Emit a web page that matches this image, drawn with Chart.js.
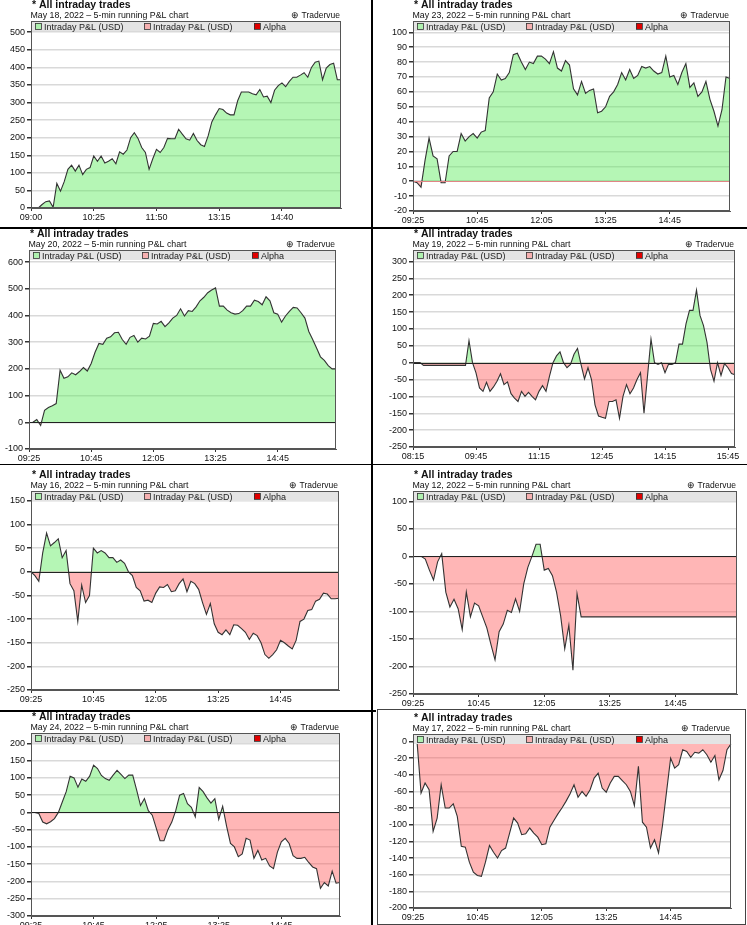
<!DOCTYPE html>
<html>
<head>
<meta charset="utf-8">
<script src="https://cdn.jsdelivr.net/npm/chart.js@4.4.0/dist/chart.umd.min.js"></script>
<style>
  body { margin: 0; background: #fff; width: 747px; height: 925px; position: relative; overflow: hidden; }
  canvas { position: absolute; }
  .ln { position: absolute; background: #000; }
</style>
</head>
<body>
<div class="ln" style="left:371px;top:0;width:1.5px;height:925px"></div>
<div class="ln" style="left:0;top:227px;width:747px;height:1.5px"></div>
<div class="ln" style="left:0;top:463.5px;width:747px;height:1.5px"></div>
<div class="ln" style="left:0;top:710px;width:376px;height:1.5px"></div>
<div style="position:absolute;left:377px;top:709px;width:367px;height:214px;border:1px solid #444"></div>

<script>
// tick labels shown on the x axes
var ticks0900 = ['09:00', '10:25', '11:50', '13:15', '14:40'];
var ticks0925 = ['09:25', '10:45', '12:05', '13:25', '14:45'];
var ticks0815 = ['08:15', '09:45', '11:15', '12:45', '14:15', '15:45'];

var legendNames = ['Intraday P&L (USD)', 'Intraday P&L (USD)', 'Alpha'];

// running P&L, one value per 5 minutes
var pnlMay18 = [0,0,0,10,18,20,2,70,48,75, 110,122,105,122,95,110,115,148,133,148,
  128,133,140,126,160,153,165,200,214,198, 172,158,110,140,167,158,172,198,197,197,
  224,210,197,193,212,192,180,175,205,245, 265,283,280,270,265,265,305,330,330,330,
  325,322,337,316,318,300,335,348,356,345, 360,372,372,378,385,372,400,415,418,365,
  398,408,412,365,365];

var pnlMay23 = [0,-1,-4,14,29,17,15,-1,-1,17, 20,20,32,27,30,32,29,33,34,56,
  60,72,68,69,73,85,86,80,75,80, 79,84,84,82,79,87,76,74,81,78,
  62,58,67,59,61,62,46,47,50,57, 60,65,73,68,75,69,71,77,76,77,
  74,72,73,84,70,71,65,73,79,63, 66,57,60,67,55,47,37,48,70,69];

var pnlMay20 = [null,0,10,-12,45,55,62,70,195,165, 170,185,178,190,205,192,220,262,295,292,
  315,320,335,337,310,292,318,325,300,315, 312,322,370,368,378,358,372,390,400,425,
  398,418,415,432,455,468,485,495,503,435, 435,420,410,405,407,418,435,435,457,452,
  440,470,455,410,405,375,398,415,430,428, 410,390,340,310,278,245,232,212,200,200];

var pnlMay19 = [0,0,0,-8,-8,-8,-8,-8,-8,-8, -8,-8,-8,-8,-8,-8,65,0,-30,-75,
  -85,-58,-85,-72,-55,-33,-65,-57,-92,-105, -115,-85,-100,-88,-100,-110,-85,-68,-85,-40,
  0,20,32,0,-15,-5,25,42,-5,-48, -15,-50,-125,-158,-162,-165,-115,-115,-110,-165,
  -100,-65,-92,-75,-50,-30,-150,-40,70,0, -5,0,-30,-5,-5,0,55,55,115,155,
  155,215,140,110,60,-20,-55,0,-38,-3, -15,-32,-36];

var pnlMay16 = [0,-8,-20,40,82,55,62,70,30,45, -25,-40,-105,-28,-65,-50,50,40,45,40,
  30,30,20,25,18,0,-8,-33,-40,-62, -60,-65,-45,-32,-33,-27,-42,-40,-25,-15,
  -42,-20,-25,-37,-65,-90,-67,-110,-128,-133, -123,-133,-112,-113,-120,-128,-143,-130,-135,-150,
  -175,-183,-175,-165,-145,-150,-157,-163,-145,-105, -100,-82,-80,-62,-58,-45,-47,-57,-57,-56];

var pnlMay12 = [null,null,0,-5,-25,-43,-10,5,-65,-92, -78,-95,-133,-65,-110,-85,-90,-110,-130,-160,
  -188,-137,-123,-98,-102,-77,-100,-50,-20,0, 22,22,-25,-22,-35,-65,-108,-168,-125,-207,
  -68,-110,-110,-110,-110,-110,-110,-110,-110,-110, -110,-110,-110,-110,-110,-110,-110,-110,-110,-110,
  -110,-110,-110,-110,-110,-110,-110,-110,-110,-110, -110,-110,-110,-110,-110,-110,-110,-110,-110,-110];

var pnlMay24 = [null,0,-3,-28,-33,-27,-18,0,30,60, 105,100,73,97,90,105,137,127,107,98,
  93,108,122,110,98,108,108,65,20,40, 5,-8,-45,-82,-82,-50,-28,5,50,55,
  25,15,-13,72,60,42,27,40,-20,18, -40,-90,-100,-128,-120,-75,-80,-133,-110,-138,
  -133,-155,-163,-115,-85,-75,-90,-125,-133,-133, -130,-145,-158,-163,-220,-203,-213,-170,-205,-203];

var pnlMay17 = [null,0,-62,-50,-58,-108,-92,-52,-80,-80, -75,-90,-126,-127,-145,-157,-161,-162,-145,-125,
  -133,-140,-131,-128,-110,-92,-98,-112,-111,-104, -110,-115,-124,-123,-103,-95,-87,-80,-72,-63,
  -52,-67,-60,-66,-58,-44,-38,-56,-61,-50, -42,-42,-47,-52,-60,-77,-30,-97,-103,-128,
  -118,-134,-100,-60,-20,-32,-28,-10,-12,-19, -13,-14,-10,-16,-25,-17,-46,-35,-10,-3];

// 5-minute time categories
function fiveMinLabels(start, count) {
  var p = start.split(':'), m = +p[0] * 60 + +p[1], out = [];
  for (var i = 0; i < count; i++, m += 5) {
    out.push(('0' + Math.floor(m / 60)).slice(-2) + ':' + ('0' + (m % 60)).slice(-2));
  }
  return out;
}

// area = plot box on the page: left, top, right, bottom
var panels = [
  { date: 'May 18, 2022', start: '09:00', ticks: ticks0900, data: pnlMay18, area: [31, 21, 341, 208], y: [0, 532, 50], zero: null },
  { date: 'May 23, 2022', start: '09:25', ticks: ticks0925, data: pnlMay23, area: [413, 21, 730, 211], y: [-20, 107.6, 10], zero: '#e08585' },
  { date: 'May 20, 2022', start: '09:25', ticks: ticks0925, data: pnlMay20, area: [29, 250, 336, 449], y: [-100, 645, 100], zero: '#222' },
  { date: 'May 19, 2022', start: '08:15', ticks: ticks0815, data: pnlMay19, area: [413, 250, 735, 447], y: [-250, 334, 50], zero: '#222' },
  { date: 'May 16, 2022', start: '09:25', ticks: ticks0925, data: pnlMay16, area: [31, 491, 339, 690], y: [-250, 171, 50], zero: '#222' },
  { date: 'May 12, 2022', start: '09:25', ticks: ticks0925, data: pnlMay12, area: [413, 491, 737, 694], y: [-250, 118.7, 50], zero: '#222' },
  { date: 'May 24, 2022', start: '09:25', ticks: ticks0925, data: pnlMay24, area: [31, 733, 340, 916], y: [-300, 230, 50], zero: '#222' },
  { date: 'May 17, 2022', start: '09:25', ticks: ticks0925, data: pnlMay17, area: [413, 734, 731, 908], y: [-200, 8.9, 20], zero: '#222' }
];

var FONT = '"Liberation Sans", Arial, sans-serif';
Chart.defaults.font.family = FONT;

// header, legend strip, zero line and frame in the Tradervue look
var tradervuePlugin = {
  id: 'tradervue',
  afterDatasetsDraw: function(chart, args, opts) {
    var ctx = chart.ctx, a = chart.chartArea, ys = chart.scales.y;
    ctx.save();

    if (opts.zero && ys.min < 0) {
      var zy = Math.round(ys.getPixelForValue(0)) + 0.5;
      ctx.strokeStyle = opts.zero;
      ctx.lineWidth = 1.2;
      ctx.beginPath();
      ctx.moveTo(a.left, zy);
      ctx.lineTo(a.right, zy);
      ctx.stroke();
    }

    // legend strip inside the top of the plot
    ctx.fillStyle = '#e4e4e4';
    ctx.fillRect(a.left, a.top, a.right - a.left, 10);
    var boxes = [['#aef0ae', 4], ['#f6b0b0', 113], ['#e00000', 223]];
    ctx.font = '9px ' + FONT;
    ctx.textBaseline = 'alphabetic';
    ctx.textAlign = 'left';
    boxes.forEach(function(b, i) {
      var x = a.left + b[1];
      ctx.fillStyle = b[0];
      ctx.fillRect(x, a.top + 2, 6, 6);
      ctx.strokeStyle = '#333';
      ctx.lineWidth = 0.8;
      ctx.strokeRect(x + 0.5, a.top + 2.5, 6, 6);
      ctx.fillStyle = '#222';
      ctx.fillText(legendNames[i], x + 9, a.top + 8.5);
    });

    ctx.strokeStyle = '#555';
    ctx.lineWidth = 1;
    ctx.strokeRect(a.left + 0.5, a.top + 0.5, a.right - a.left - 1, a.bottom - a.top - 1);

    // header text
    ctx.fillStyle = '#111';
    ctx.font = 'bold 10.5px ' + FONT;
    ctx.fillText('* All intraday trades', a.left + 1, a.top - 13.5);
    ctx.font = '8.8px ' + FONT;
    ctx.fillText(opts.date + ' \u2013 5-min running P&L chart', a.left - 0.5, a.top - 3.5);
    ctx.textAlign = 'right';
    ctx.font = '8.5px ' + FONT;
    ctx.fillText('\u2295 Tradervue', a.right - 1, a.top - 3.5);

    ctx.restore();
  }
};

var AXIS_W = 30, AXIS_H = 16, PAD_TOP = 22, PAD_RIGHT = 6;

panels.forEach(function(p) {
  var L = p.area[0], T = p.area[1], R = p.area[2], B = p.area[3];
  var canvas = document.createElement('canvas');
  var w = (R - L) + AXIS_W + PAD_RIGHT, h = (B - T) + PAD_TOP + AXIS_H;
  canvas.width = w;
  canvas.height = h;
  canvas.style.width = w + 'px';
  canvas.style.height = h + 'px';
  canvas.style.left = (L - AXIS_W) + 'px';
  canvas.style.top = (T - PAD_TOP) + 'px';
  document.body.appendChild(canvas);

  var labels = fiveMinLabels(p.start, p.data.length);
  var shown = p.ticks;

  new Chart(canvas, {
    type: 'line',
    data: {
      labels: labels,
      datasets: [{
        label: legendNames[0],
        data: p.data,
        borderColor: '#333',
        borderWidth: 1.1,
        pointRadius: 0,
        tension: 0,
        fill: { target: 'origin', above: 'rgba(90,235,90,0.45)', below: 'rgba(255,80,80,0.42)' }
      }]
    },
    options: {
      responsive: false,
      animation: false,
      events: [],
      layout: { padding: { top: PAD_TOP, right: PAD_RIGHT, left: 0, bottom: 0 } },
      plugins: {
        legend: { display: false },
        tooltip: { enabled: false },
        tradervue: { date: p.date, zero: p.zero }
      },
      scales: {
        x: {
          ticks: {
            autoSkip: false,
            maxRotation: 0,
            padding: 1,
            color: '#111',
            font: { size: 9 },
            callback: function(value) {
              var l = this.getLabelForValue(value);
              return shown.indexOf(l) >= 0 ? l : null;
            }
          },
          grid: { drawOnChartArea: false, tickLength: 3, tickColor: '#333' },
          border: { color: '#555' },
          afterFit: function(s) { s.height = AXIS_H; }
        },
        y: {
          min: p.y[0],
          max: p.y[1],
          ticks: { stepSize: p.y[2], includeBounds: false, padding: 2, color: '#111', font: { size: 9 } },
          grid: { color: '#d9d9d9', lineWidth: 1.5, tickLength: 4, tickColor: '#333' },
          border: { color: '#555' },
          afterFit: function(s) { s.width = AXIS_W; }
        }
      }
    },
    plugins: [tradervuePlugin]
  });
});
</script>
</body>
</html>
